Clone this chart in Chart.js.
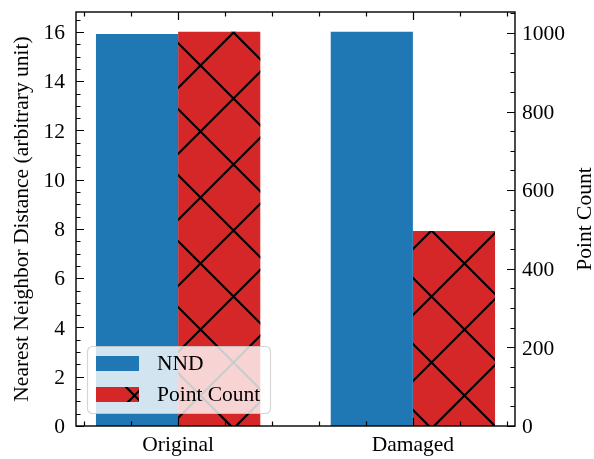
<!DOCTYPE html>
<html>
<head>
<meta charset="utf-8">
<script src="https://cdn.jsdelivr.net/npm/chart.js@4.4.1/dist/chart.umd.min.js"></script>
<style>
  html, body { margin: 0; padding: 0; background: #ffffff; }
  #c { display: block; }
</style>
</head>
<body>
<canvas id="c" width="594" height="459"></canvas>
<script>
// ---- data ----
const categories = ['Original', 'Damaged'];
const seriesNames = ['NND', 'Point Count'];
const nndValues = [15.92, 16.01];
const pointCounts = [1003, 496];
const leftTickValues = [0, 2, 4, 6, 8, 10, 12, 14, 16];
const rightTickValues = [0, 200, 400, 600, 800, 1000];
const axisTitles = ['Nearest Neighbor Distance (arbitrary unit)', 'Point Count'];

// ---- style ----
const FONT = "'Liberation Serif', 'Times New Roman', serif";
const FONT_SIZE = 21.5;
const BLUE = '#1f77b4';
const RED = '#d62728';
const HATCH_PERIOD = 66;

Chart.defaults.font.family = FONT;
Chart.defaults.font.size = FONT_SIZE;
Chart.defaults.color = '#000000';

// Diagonal cross-hatch anchored to the canvas, clipped to a rectangle.
function drawHatch(ctx, left, top, w, h) {
  const right = left + w, bottom = top + h;
  ctx.save();
  ctx.beginPath();
  ctx.rect(left, top, w, h);
  ctx.clip();
  ctx.strokeStyle = '#000000';
  ctx.lineWidth = 2.2;
  ctx.beginPath();
  // lines x + y = c
  let c0 = 662 + Math.floor((left + top - 662) / HATCH_PERIOD) * HATCH_PERIOD;
  for (let c = c0; c <= right + bottom + HATCH_PERIOD; c += HATCH_PERIOD) {
    ctx.moveTo(left - 5, c - (left - 5));
    ctx.lineTo(right + 5, c - (right + 5));
  }
  // lines x - y = d
  let d0 = 201 + Math.floor((left - bottom - 201) / HATCH_PERIOD) * HATCH_PERIOD;
  for (let d = d0; d <= right - top + HATCH_PERIOD; d += HATCH_PERIOD) {
    ctx.moveTo(left - 5, left - 5 - d);
    ctx.lineTo(right + 5, right + 5 - d);
  }
  ctx.stroke();
  ctx.restore();
}

function roundRect(ctx, x, y, w, h, r) {
  ctx.beginPath();
  ctx.moveTo(x + r, y);
  ctx.lineTo(x + w - r, y);
  ctx.arcTo(x + w, y, x + w, y + r, r);
  ctx.lineTo(x + w, y + h - r);
  ctx.arcTo(x + w, y + h, x + w - r, y + h, r);
  ctx.lineTo(x + r, y + h);
  ctx.arcTo(x, y + h, x, y + h - r, r);
  ctx.lineTo(x, y + r);
  ctx.arcTo(x, y, x + r, y, r);
  ctx.closePath();
}

// Fixed axis box sizes, no automatic label overhang padding.
function fixBox(size) {
  return s => {
    if (s.isHorizontal()) s.height = size; else s.width = size;
    s.paddingTop = 0; s.paddingBottom = 0; s.paddingLeft = 0; s.paddingRight = 0;
  };
}

const framePlugin = {
  id: 'frame',
  afterDatasetsDraw(chart) {
    const ctx = chart.ctx;
    // hatch the point-count bars
    chart.data.datasets.forEach((ds, i) => {
      if (!ds.hatch) return;
      chart.getDatasetMeta(i).data.forEach(bar => {
        const p = bar.getProps(['x', 'y', 'base', 'width'], true);
        const top = Math.min(p.y, p.base);
        drawHatch(ctx, p.x - p.width / 2, top, p.width, Math.abs(p.base - p.y));
      });
    });
  },
  afterDraw(chart) {
    const ctx = chart.ctx;
    const a = chart.chartArea;
    const sx = chart.scales.x, sy = chart.scales.y, sy2 = chart.scales.y2;
    const MAJ = 8, MIN = 4.5;

    ctx.save();
    ctx.strokeStyle = '#000000';
    ctx.lineWidth = 1.2;
    ctx.beginPath();
    // x ticks, bottom and top, pointing inward
    for (let k = -2; k <= 7; k++) {
      const v = k * 0.2;
      if (v < sx.min || v > sx.max) continue;
      const px = Math.round(sx.getPixelForValue(v)) + 0.5;
      const major = Math.abs(v - Math.round(v)) < 1e-9;
      const len = major ? MAJ : MIN;
      ctx.moveTo(px, a.bottom); ctx.lineTo(px, a.bottom - len);
      ctx.moveTo(px, a.top); ctx.lineTo(px, a.top + len);
    }
    // left axis ticks
    for (let v = 0; v <= sy.max + 1e-9; v += 0.5) {
      const py = Math.round(sy.getPixelForValue(v)) + 0.5;
      const len = (Math.round(v * 2) % 4 === 0) ? MAJ : MIN;
      ctx.moveTo(a.left, py); ctx.lineTo(a.left + len, py);
    }
    // right axis ticks
    for (let v = 0; v <= sy2.max + 1e-9; v += 50) {
      const py = Math.round(sy2.getPixelForValue(v)) + 0.5;
      const len = (v % 200 === 0) ? MAJ : MIN;
      ctx.moveTo(a.right, py); ctx.lineTo(a.right - len, py);
    }
    ctx.stroke();

    // plot frame
    ctx.lineWidth = 1.4;
    ctx.strokeRect(a.left, a.top, a.right - a.left, a.bottom - a.top);

    // axis titles, both reading bottom to top
    ctx.fillStyle = '#000000';
    ctx.font = FONT_SIZE + 'px ' + FONT;
    ctx.textAlign = 'center';
    ctx.textBaseline = 'middle';
    const cy = (a.top + a.bottom) / 2;
    ctx.save();
    ctx.translate(22, cy);
    ctx.rotate(-Math.PI / 2);
    ctx.fillText(axisTitles[0], 0, 0);
    ctx.restore();
    ctx.save();
    ctx.translate(585, cy);
    ctx.rotate(-Math.PI / 2);
    ctx.fillText(axisTitles[1], 0, 0);
    ctx.restore();

    // legend
    const lx = 87, ly = 346, lw = 183, lh = 67;
    roundRect(ctx, lx + 0.5, ly + 0.5, lw, lh, 5);
    ctx.fillStyle = 'rgba(255,255,255,0.8)';
    ctx.fill();
    ctx.strokeStyle = 'rgba(204,204,204,0.8)';
    ctx.lineWidth = 1.2;
    ctx.stroke();

    const rows = [356, 387];
    chart.data.datasets.forEach((ds, i) => {
      const ry = rows[i];
      ctx.fillStyle = ds.backgroundColor;
      ctx.fillRect(96, ry, 43, 15);
      if (ds.hatch) drawHatch(ctx, 96, ry, 43, 15);
      ctx.fillStyle = '#000000';
      ctx.textAlign = 'left';
      ctx.textBaseline = 'middle';
      ctx.fillText(ds.label, 157, ry + 8);
    });
    ctx.restore();
  }
};

new Chart(document.getElementById('c'), {
  type: 'bar',
  data: {
    datasets: [
      {
        label: seriesNames[0],
        data: categories.map((c, i) => ({ x: i, y: nndValues[i] })),
        backgroundColor: BLUE,
        yAxisID: 'y',
        hatch: false
      },
      {
        label: seriesNames[1],
        data: categories.map((c, i) => ({ x: i, y: pointCounts[i] })),
        backgroundColor: RED,
        yAxisID: 'y2',
        hatch: true
      }
    ]
  },
  options: {
    responsive: false,
    animation: false,
    devicePixelRatio: 1,
    layout: { padding: { top: 12, left: 0, right: 0, bottom: 0 } },
    datasets: {
      bar: { categoryPercentage: 0.7, barPercentage: 1.0, borderWidth: 0, grouped: true }
    },
    plugins: { legend: { display: false }, tooltip: { enabled: false } },
    scales: {
      x: {
        type: 'linear',
        offset: false,
        min: -0.435,
        max: 1.435,
        grid: { display: false, drawTicks: false, offset: false },
        border: { display: false },
        afterBuildTicks: s => { s.ticks = categories.map((c, i) => ({ value: i })); },
        ticks: { callback: v => categories[v], padding: 6, autoSkip: false, maxRotation: 0 },
        afterFit: fixBox(33)
      },
      y: {
        type: 'linear',
        position: 'left',
        min: 0,
        max: Math.max(...nndValues) * 1.05,
        grid: { display: false, drawTicks: false },
        border: { display: false },
        afterBuildTicks: s => { s.ticks = leftTickValues.map(v => ({ value: v })); },
        ticks: { padding: 11, labelOffset: 1.5, callback: v => String(v) },
        afterFit: fixBox(76)
      },
      y2: {
        type: 'linear',
        position: 'right',
        min: 0,
        max: Math.max(...pointCounts) * 1.05,
        grid: { display: false, drawTicks: false },
        border: { display: false },
        afterBuildTicks: s => { s.ticks = rightTickValues.map(v => ({ value: v })); },
        ticks: { padding: 7, labelOffset: 1.5, callback: v => String(v) },
        afterFit: fixBox(79)
      }
    }
  },
  plugins: [framePlugin]
});
</script>
</body>
</html>
